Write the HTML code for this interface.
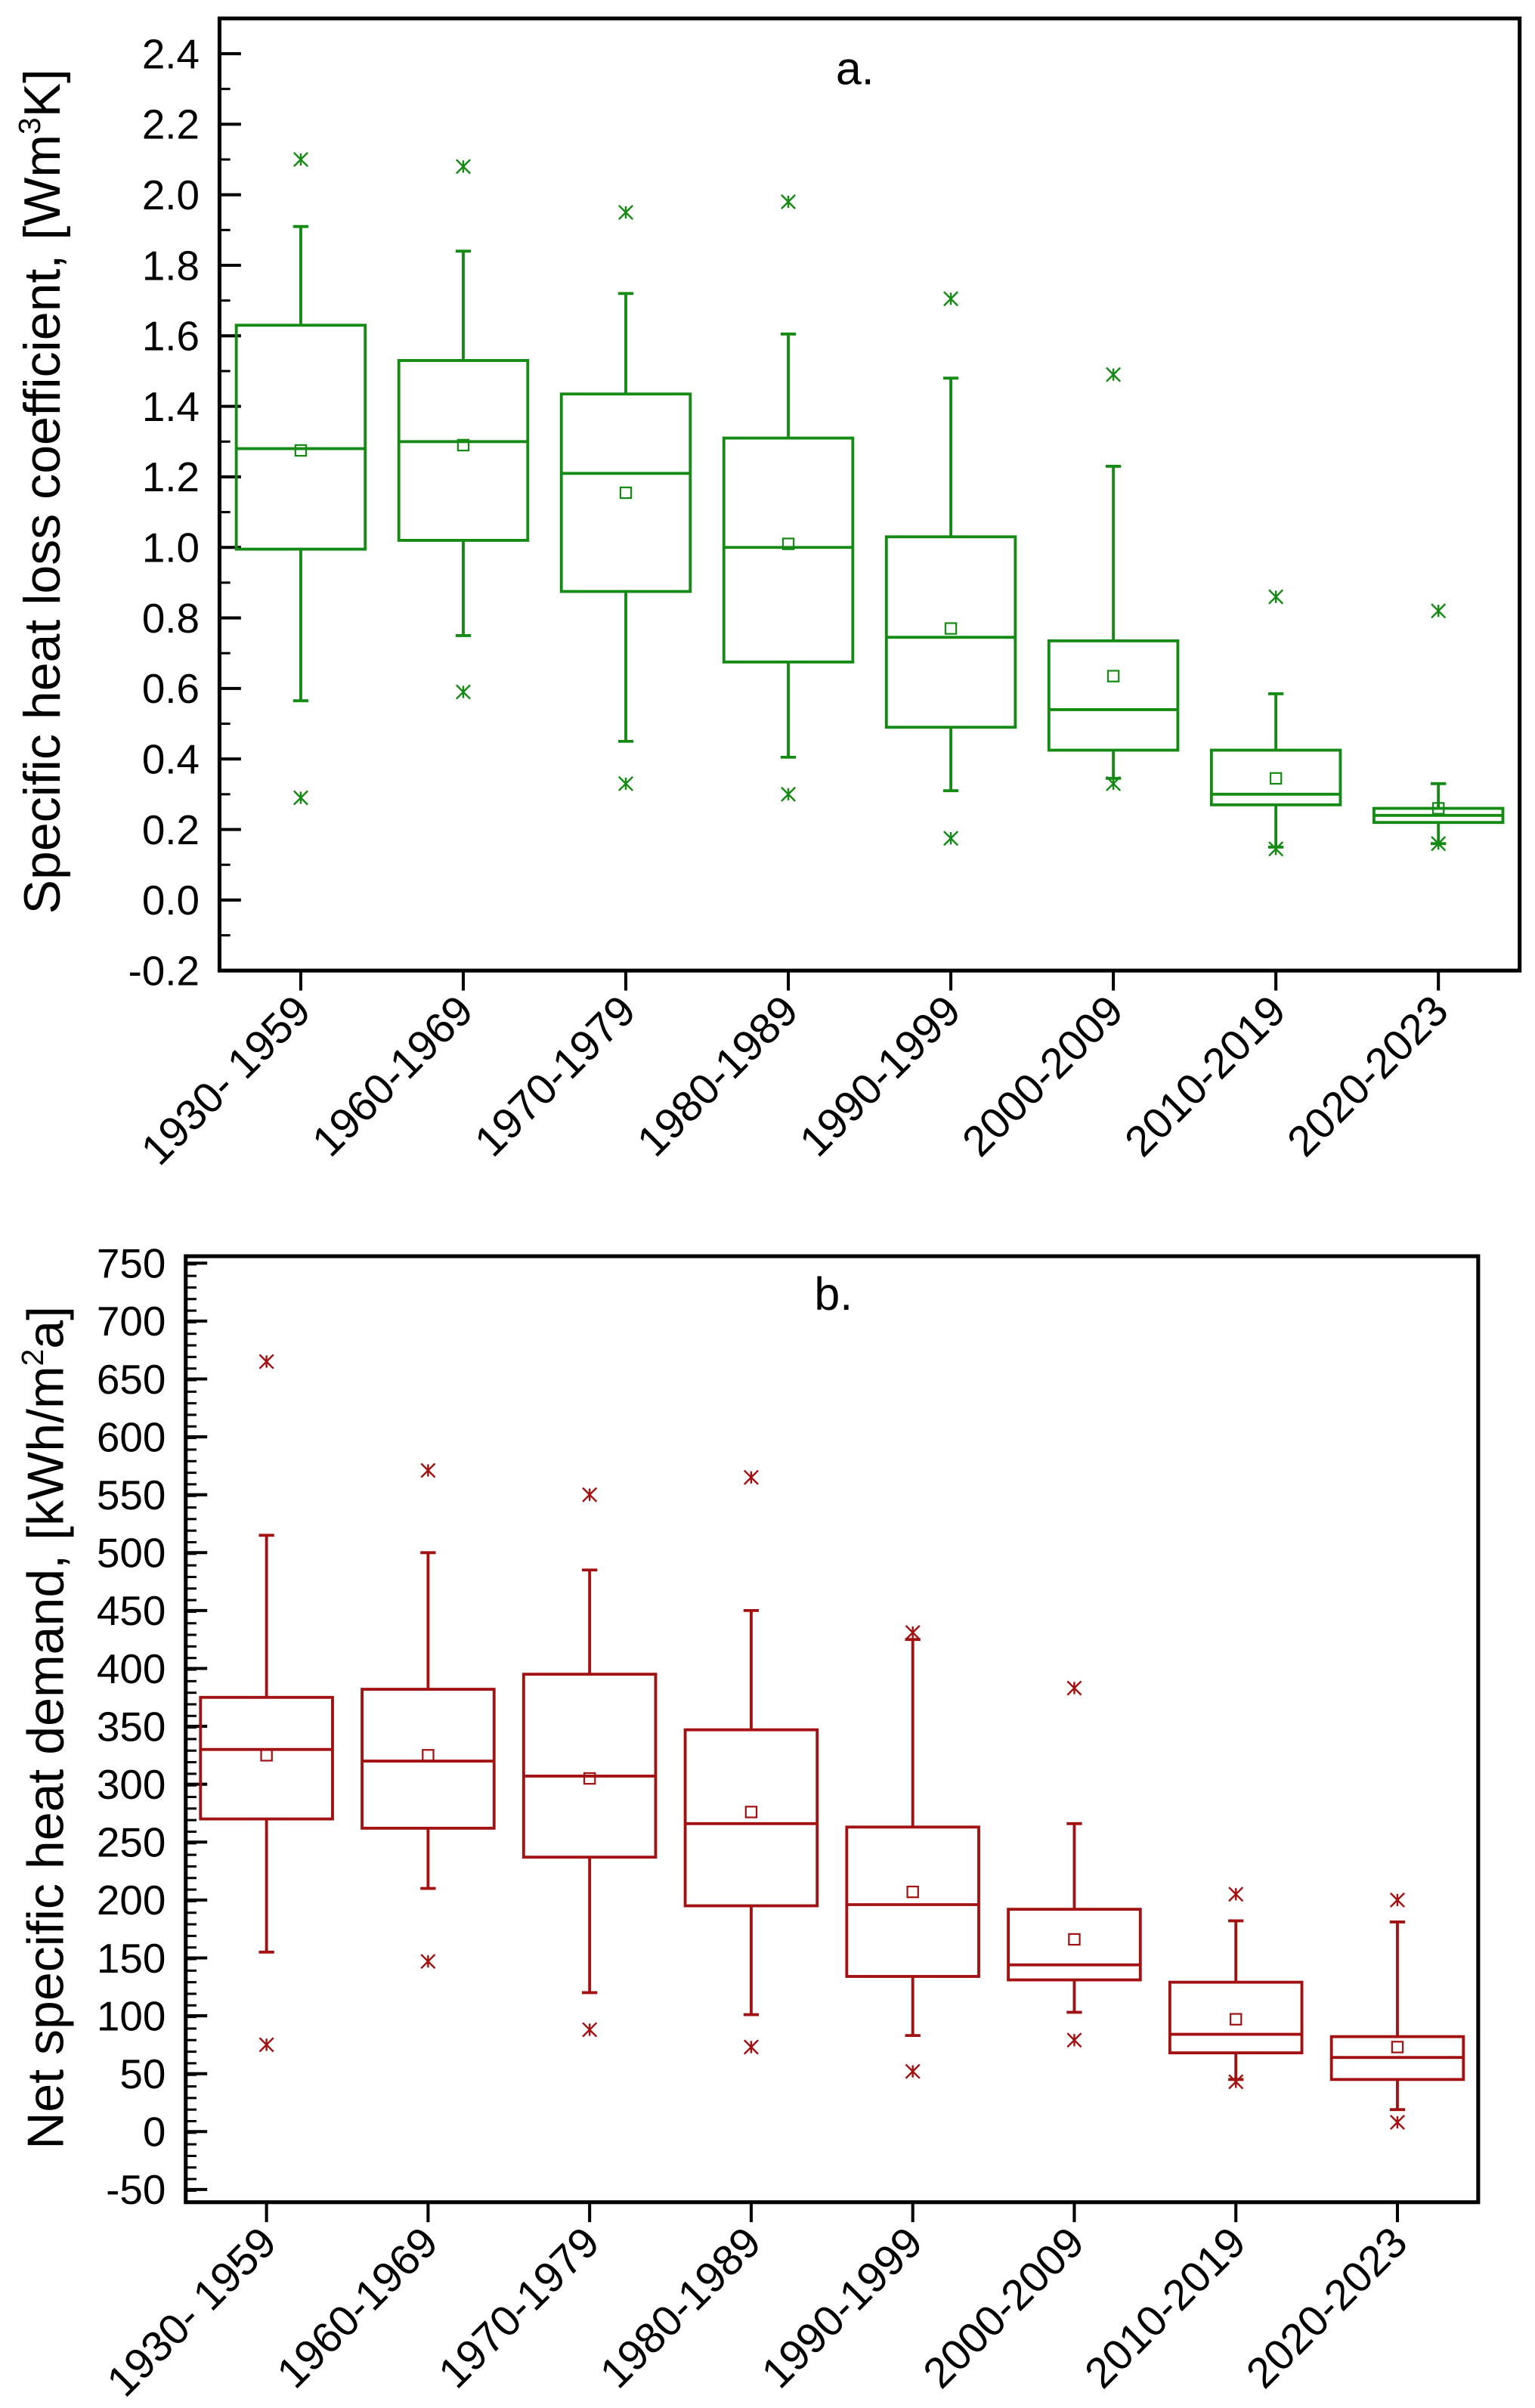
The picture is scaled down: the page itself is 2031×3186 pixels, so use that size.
<!DOCTYPE html>
<html><head><meta charset="utf-8">
<style>
html,body{margin:0;padding:0;background:#fff;}
svg{display:block;}
text{font-family:"Liberation Sans",Arial,sans-serif;fill:#000;}
</style></head>
<body>
<svg id="fig" width="2031" height="3186" viewBox="0 0 1000 1568" preserveAspectRatio="none" xmlns="http://www.w3.org/2000/svg">
<g id="chartA"></g>
<g id="chartB"></g>
</svg>
<script>
const categories = ["1930- 1959","1960-1969","1970-1979","1980-1989","1990-1999","2000-2009","2010-2019","2020-2023"];
// Chart a values
const aWhiskerHigh = [1.91,1.84,1.72,1.605,1.48,1.23,0.585,0.33];
const aBoxHigh = [1.63,1.53,1.435,1.31,1.03,0.735,0.425,0.26];
const aMedian = [1.28,1.30,1.21,1.0,0.745,0.54,0.30,0.24];
const aBoxLow = [0.995,1.02,0.875,0.675,0.49,0.425,0.27,0.22];
const aWhiskerLow = [0.565,0.75,0.45,0.405,0.31,0.345,0.15,0.16];
const aMean = [1.275,1.29,1.155,1.01,0.77,0.635,0.345,0.26];
const aOutHigh = [2.10,2.08,1.95,1.98,1.705,1.49,0.86,0.82];
const aOutLow = [0.29,0.59,0.33,0.30,0.175,0.33,0.145,0.16];
const aTicks = ["-0.2","0.0","0.2","0.4","0.6","0.8","1.0","1.2","1.4","1.6","1.8","2.0","2.2","2.4"];
// Chart b values
const bWhiskerHigh = [515,500,485,450,425,266,182,181];
const bBoxHigh = [375,382,395,347,263,192,129,82];
const bMedian = [330,320,307,266,196,144,84,64];
const bBoxLow = [270,262,237,195,134,131,68,45];
const bWhiskerLow = [155,210,120,101,83,103,45,19];
const bMean = [325,325,305,276,207,166,97,73];
const bOutHigh = [665,571,550,565,431,383,205,200];
const bOutLow = [75,147,88,73,52,79,43,8];
const bTicks = ["-50","0","50","100","150","200","250","300","350","400","450","500","550","600","650","700","750"];

const NS="http://www.w3.org/2000/svg";
function mk(parent,tag,attrs){const e=document.createElementNS(NS,tag);for(const k in attrs)e.setAttribute(k,attrs[k]);parent.appendChild(e);return e;}

function drawChart(g,cfg){
  const {x0,x1,y0,y1,vmin,vmax,color,ticks,minorStep,hw,data,panel,panelX,panelY,title,sup,titleTail,titleX,titleY}=cfg;
  const yS=v=>y1-(v-vmin)/(vmax-vmin)*(y1-y0);
  const step=(x1-x0)/categories.length;
  const xS=i=>x0+step*(i+0.5);
  for(let v=vmin;v<=vmax+1e-9;v+=minorStep){
    const t=mk(g,'line',{x1:x0,x2:x0+7,y1:yS(v),y2:yS(v),stroke:'#000','stroke-width':1.5});
    
    
  }
  ticks.forEach(s=>{
    const v=parseFloat(s);
    const t=mk(g,'line',{x1:x0,x2:x0+14,y1:yS(v),y2:yS(v),stroke:'#000','stroke-width':2});
    
    
    const l=mk(g,'text',{x:x0-13,y:yS(v)+9.5,'text-anchor':'end','font-size':27});
    l.textContent=s;
    
    
  });
  categories.forEach((c,i)=>{
    const cx=xS(i);
    const t=mk(g,'line',{x1:cx,x2:cx,y1:y1,y2:y1+13,stroke:'#000','stroke-width':2});
    
    
    const l=mk(g,'text',{'text-anchor':'end','font-size':28,transform:`translate(${cx+8},${y1+28}) rotate(-45)`});
    l.textContent=c;
    
    
    const d=data;
    const bx=mk(g,'g',{});
    
    
    const sw=1.9;
    mk(bx,'line',{x1:cx,x2:cx,y1:yS(d.wh[i]),y2:yS(d.bh[i]),stroke:color,'stroke-width':sw});
    mk(bx,'line',{x1:cx,x2:cx,y1:yS(d.bl[i]),y2:yS(d.wl[i]),stroke:color,'stroke-width':sw});
    mk(bx,'line',{x1:cx-5,x2:cx+5,y1:yS(d.wh[i]),y2:yS(d.wh[i]),stroke:color,'stroke-width':sw});
    mk(bx,'line',{x1:cx-5,x2:cx+5,y1:yS(d.wl[i]),y2:yS(d.wl[i]),stroke:color,'stroke-width':sw});
    mk(bx,'rect',{x:cx-hw,y:yS(d.bh[i]),width:2*hw,height:yS(d.bl[i])-yS(d.bh[i]),fill:'none',stroke:color,'stroke-width':sw});
    mk(bx,'line',{x1:cx-hw,x2:cx+hw,y1:yS(d.md[i]),y2:yS(d.md[i]),stroke:color,'stroke-width':sw});
    mk(bx,'rect',{x:cx-3.5,y:yS(d.mn[i])-3.5,width:7,height:7,fill:'none',stroke:color,'stroke-width':1.1});
    [d.oh[i],d.ol[i]].forEach(v=>{
      const y=yS(v);
      mk(bx,'path',{d:`M${cx-4.5},${y-4.5}L${cx+4.5},${y+4.5}M${cx-4.5},${y+4.5}L${cx+4.5},${y-4.5}M${cx},${y-4}L${cx},${y+4}`,stroke:color,'stroke-width':1.2,fill:'none'});
    });
  });
  const fr=mk(g,'rect',{x:x0,y:y0,width:x1-x0,height:y1-y0,fill:'none',stroke:'#000','stroke-width':2.5});
  
  
  const pl=mk(g,'text',{x:panelX,y:panelY,'text-anchor':'middle','font-size':30});
  pl.textContent=panel;
  
  
  const yt=mk(g,'text',{'text-anchor':'middle','font-size':33.5,transform:`translate(${titleX},${titleY}) rotate(-90)`});
  
  
  const t1=mk(yt,'tspan',{});t1.textContent=title;
  const t2=mk(yt,'tspan',{'font-size':20,dy:-13});t2.textContent=sup;
  const t3=mk(yt,'tspan',{dy:13});t3.textContent=titleTail;
}

drawChart(document.getElementById('chartA'),{x0:143,x1:990,y0:12,y1:632,vmin:-0.2,vmax:2.5,color:'#158a15',
  ticks:aTicks,minorStep:0.1,hw:42,
  data:{wh:aWhiskerHigh,bh:aBoxHigh,md:aMedian,bl:aBoxLow,wl:aWhiskerLow,mn:aMean,oh:aOutHigh,ol:aOutLow},
  panel:'a.',panelX:557,panelY:55,title:'Specific heat loss coefficient, [Wm',sup:'3',titleTail:'K]',titleX:39,titleY:320});
drawChart(document.getElementById('chartB'),{x0:121,x1:963,y0:818,y1:1434,vmin:-61,vmax:756,color:'#a31212',
  ticks:bTicks,minorStep:10,hw:43,
  data:{wh:bWhiskerHigh,bh:bBoxHigh,md:bMedian,bl:bBoxLow,wl:bWhiskerLow,mn:bMean,oh:bOutHigh,ol:bOutLow},
  panel:'b.',panelX:543,panelY:853,title:'Net specific heat demand, [kWh/m',sup:'2',titleTail:'a]',titleX:41,titleY:1125});
</script>
</body></html>
